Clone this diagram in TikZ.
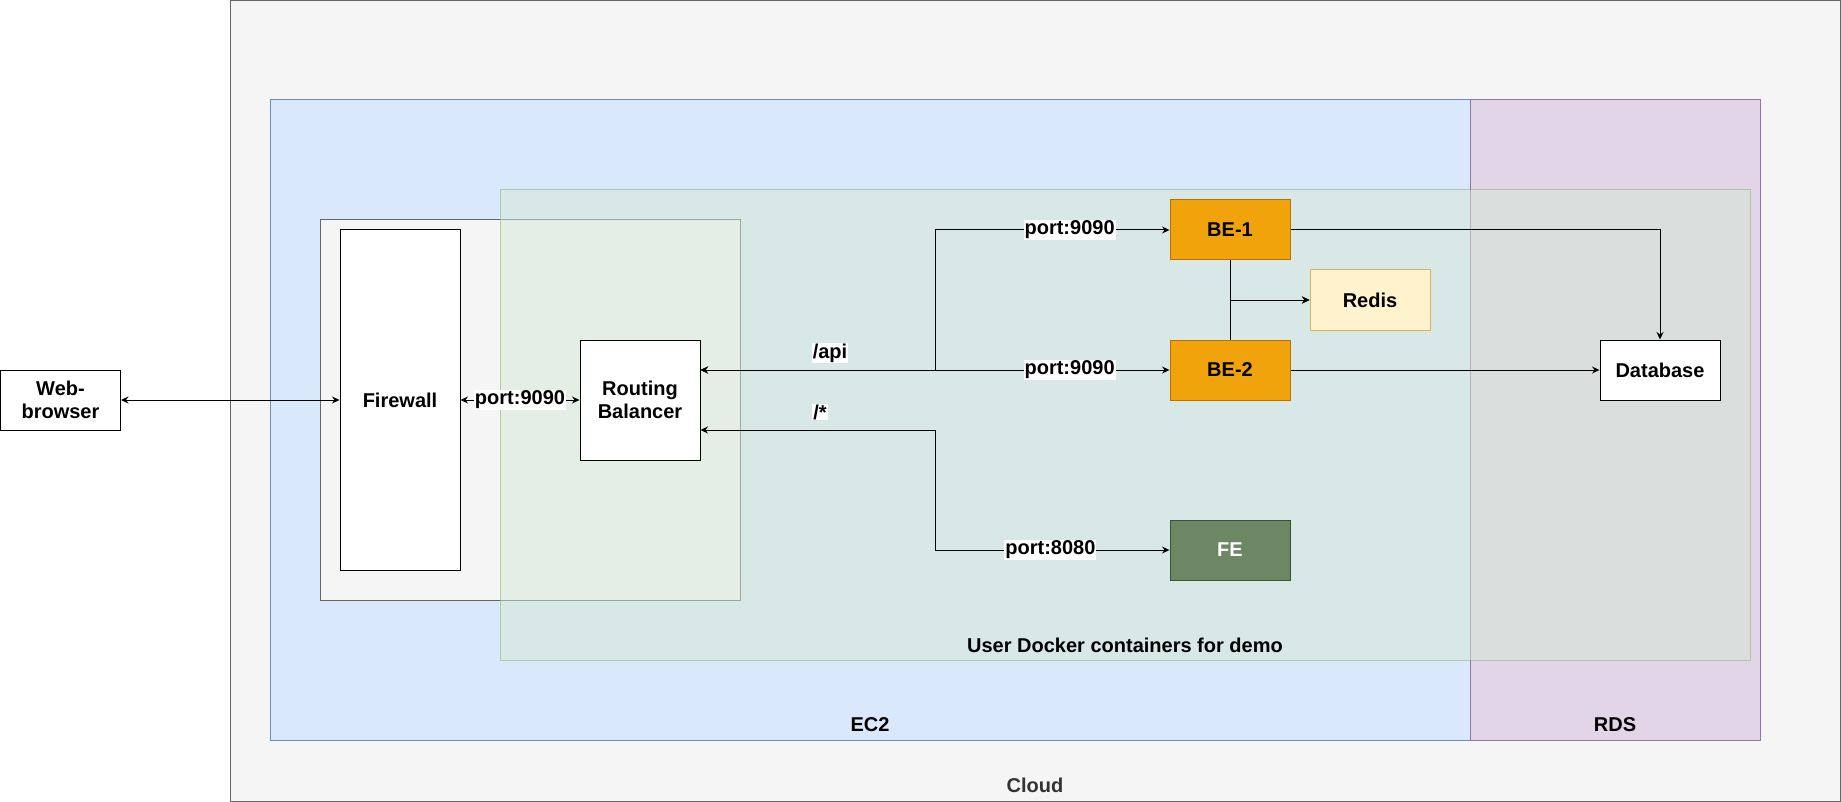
\documentclass[tikz,border=0pt]{standalone}
\usepackage{fontspec}
\setmainfont{Liberation Sans}
\usepackage{xcolor}
\usepackage{tikz}
\usetikzlibrary{arrows.meta,calc}
\tikzset{every picture/.style={line width=1pt}}
\definecolor{cloudfill}{HTML}{F5F5F5}
\definecolor{cloudline}{HTML}{666666}
\definecolor{cloudtext}{HTML}{333333}
\definecolor{ecfill}{HTML}{DAE8FC}
\definecolor{ecline}{HTML}{6C8EBF}
\definecolor{rdsfill}{HTML}{E1D5E7}
\definecolor{rdsline}{HTML}{9673A6}
\definecolor{dockfill}{HTML}{D5E8D4}
\definecolor{dockline}{HTML}{82B366}
\definecolor{befill}{HTML}{F0A30A}
\definecolor{beline}{HTML}{BD7000}
\definecolor{fefill}{HTML}{6D8764}
\definecolor{feline}{HTML}{3A5431}
\definecolor{redisfill}{HTML}{FFF2CC}
\definecolor{redisline}{HTML}{D6B656}
\newcommand{\diagtxt}{\bfseries\fontsize{20}{23.5}\selectfont}

\begin{document}
\begin{tikzpicture}[x=1pt,y=1pt,yscale=-1,
    >={Stealth[length=7.5pt,width=7pt,inset=2.5pt]},
    box/.style={draw=black, fill=white, minimum width=120pt, minimum height=60pt, inner sep=0pt, align=center, font=\diagtxt},
    bebox/.style={box, fill=befill, draw=beline},
    grouplabel/.style={inner sep=0pt, font=\diagtxt},
    edgelabel/.style={fill=white, inner sep=1pt, font=\diagtxt}]
    \useasboundingbox (0,0) rectangle (1841,802);
    \draw [fill=cloudfill, draw=cloudline] (230.5,0.5) rectangle (1840.5,801.5);
    \draw [fill=ecfill, draw=ecline] (270,100) rectangle (1470,740);
    \draw [fill=rdsfill, draw=rdsline] (1470,100) rectangle (1760,740);
    \draw [fill=cloudfill, draw=cloudline] (320,220) rectangle (740,600);
    \draw [fill=dockfill, draw=dockline, opacity=0.5] (500,190) rectangle (1750,660);
    \node [grouplabel, text=cloudtext] (cloudlbl) at (1035,785) {Cloud};
    \node [grouplabel] (eclbl) at (870,725) {EC2};
    \node [grouplabel] (rdslbl) at (1615,725) {RDS};
    \node [grouplabel] (docklbl) at (1125,645) {User Docker containers for demo};
    \node [box] (web) at (60.5,400) {Web-\\browser};
    \node [box, minimum height=340pt] (fw) at (400,400) {Firewall};
    \node [box, minimum height=120pt] (rb) at (640,400) {Routing\\Balancer};
    \node [bebox] (be1) at (1230,230) {BE-1};
    \node [bebox] (be2) at (1230,370) {BE-2};
    \node [box, fill=redisfill, draw=redisline] (redis) at (1370,300) {Redis};
    \node [box] (db) at (1660,370) {Database};
    \node [box, fill=fefill, draw=feline, text=white] (fe) at (1230,550) {FE};
    \coordinate (rbapi) at ($(rb.east)+(0,-30)$);
    \coordinate (rbfe) at ($(rb.east)+(0,30)$);
    \coordinate (split) at (935,370);
    \draw [<->] (web) -- (fw);
    \draw [<->] (fw) -- node [edgelabel] (fwport) {port:9090} (rb);
    \draw [<->] (rbapi) -- (split) |- node [edgelabel, pos=0.787] (be1port) {port:9090} (be1);
    \draw [<->] (rbapi) -- node [edgelabel, pos=0.787] (be2port) {port:9090} (be2);
    \draw [<->] (rbfe) -- (split |- rbfe) |- node [edgelabel, pos=0.746] (feport) {port:8080} (fe);
    \node [edgelabel] (api) at (830,353) {/api};
    \node [edgelabel] (star) at (820,412) {/*};
    \draw [->] (be1) -| (db);
    \draw [->] (be2) -- (db);
    \draw [->] (be1) |- (redis);
    \draw [->] (be2) |- (redis);
\end{tikzpicture}
\end{document}
